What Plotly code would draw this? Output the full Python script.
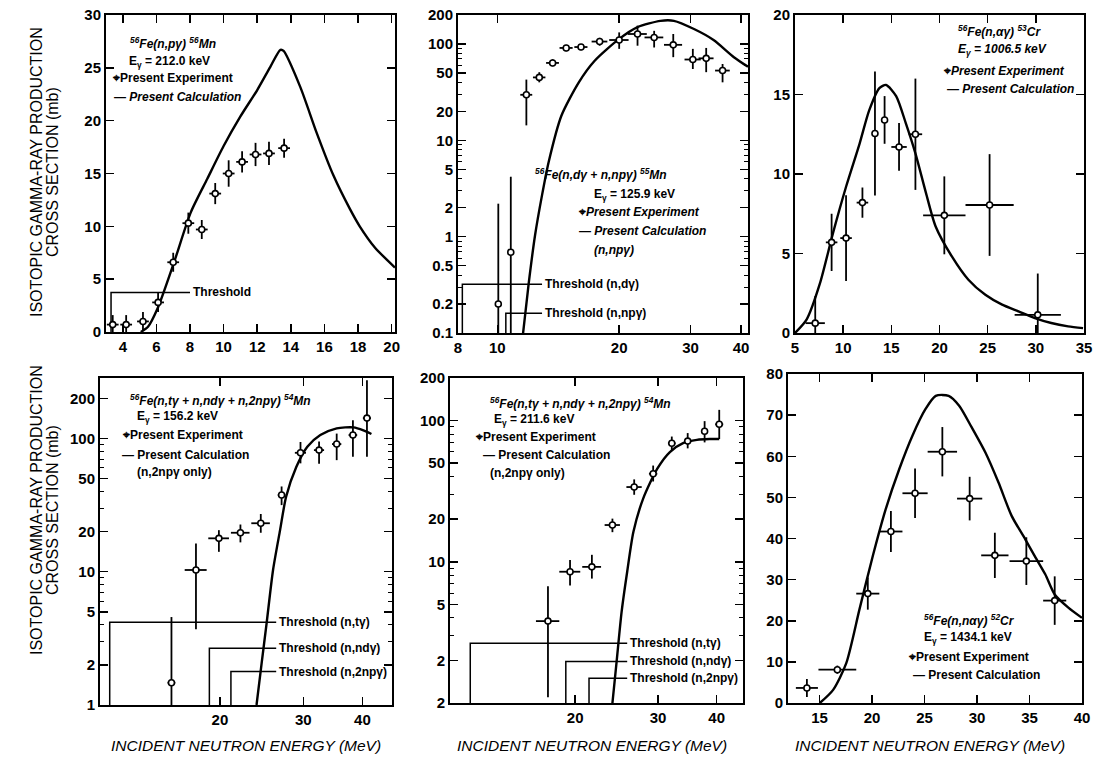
import math
import plotly.graph_objects as go

W, H = 1093, 759
FONT = "Liberation Sans, Arial, sans-serif"

# ---------------- data ----------------
# Panel 1: 56Fe(n,pγ)56Mn, Eγ = 212.0 keV
p1_E = [3.4, 4.2, 5.2, 6.1, 7.0, 7.9, 8.7, 9.5, 10.3, 11.1, 11.9, 12.7, 13.6]
p1_sig = [0.7, 0.7, 1.0, 2.8, 6.6, 10.3, 9.7, 13.1, 15.0, 16.1, 16.8, 16.9, 17.4]
p1_errp = [0.9, 0.9, 0.9, 0.9, 0.9, 1.0, 0.9, 1.0, 1.25, 1.0, 1.1, 1.1, 0.9]
p1_errm = [0.7, 0.7, 0.9, 0.9, 0.9, 1.0, 0.9, 1.0, 1.25, 1.0, 1.1, 1.1, 0.9]
p1_dE = [0.35, 0.35, 0.35, 0.35, 0.35, 0.35, 0.35, 0.35, 0.35, 0.35, 0.35, 0.35, 0.35]
p1_cE = [5.07, 5.5, 6.06, 7.05, 8.04, 9.03, 10.0, 11.0, 12.0, 12.78, 13.38, 13.57, 14.56, 15.55, 16.54, 17.53, 18.1, 19.0, 20.2]
p1_cS = [0.0, 0.5, 2.2, 6.6, 11.3, 14.5, 17.6, 20.4, 22.9, 25.1, 26.7, 26.6, 23.2, 18.8, 14.8, 11.6, 10.0, 8.0, 6.1]
p1_thrE = [3.3]
p1_thrH = [3.75]
p1_thrEnd = [8.0]
p1_thrLab = ["Threshold"]

# Panel 2: 56Fe(n,dγ + n,npγ)55Mn, Eγ = 125.9 keV
p2_E = [10.06, 10.8, 11.8, 12.7, 13.7, 14.8, 16.1, 17.9, 20.0, 22.2, 24.4, 27.2, 30.4, 32.8, 36.0]
p2_sig = [0.2, 0.69, 29.7, 45, 63.6, 91, 93, 106, 110, 127, 117, 98, 69, 71, 53]
p2_errp = [2.0, 3.5, 13, 6, 6, 7, 7, 10, 22, 28, 20, 29, 20, 20, 9]
p2_errm = [0.15, 0.65, 15.4, 5, 5, 7, 7, 10, 21, 31, 25, 25, 14, 20, 13]
p2_dE = [0.15, 0.15, 0.4, 0.45, 0.5, 0.55, 0.6, 0.8, 1.1, 1.2, 1.3, 1.4, 1.4, 1.4, 1.5]
p2_cE = [11.55, 11.95, 12.4, 12.9, 13.4, 14.4, 15.9, 17.4, 20.0, 22.2, 25.3, 27.3, 30.6, 34.2, 38.4, 41.6]
p2_cS = [0.09, 0.32, 1.04, 2.7, 6.0, 18, 40, 67, 113, 150, 174, 174, 143, 110, 73, 58]
p2_thrE = [8.2, 10.5]
p2_thrH = [0.32, 0.16]
p2_thrEnd = [12.9, 12.9]
p2_thrLab = ["Threshold (n,dγ)", "Threshold (n,npγ)"]

# Panel 3: 56Fe(n,αγ)53Cr, Eγ = 1006.5 keV
p3_E = [7.1, 8.8, 10.3, 12.0, 13.3, 14.3, 15.8, 17.5, 20.5, 25.2, 30.2]
p3_sig = [0.62, 5.7, 5.97, 8.2, 12.55, 13.4, 11.7, 12.5, 7.4, 8.05, 1.14]
p3_errp = [1.7, 1.8, 2.7, 0.95, 3.9, 1.5, 1.5, 3.5, 2.45, 3.2, 2.6]
p3_errm = [0.62, 1.8, 2.7, 0.95, 3.9, 1.5, 1.5, 3.5, 2.45, 3.2, 1.14]
p3_dE = [1.0, 0.6, 0.6, 0.6, 0.3, 0.3, 0.8, 0.7, 2.2, 2.5, 2.4]
p3_cE = [5.0, 6.2, 7.58, 8.95, 10.3, 11.7, 12.7, 13.76, 14.45, 15.5, 16.5, 17.5, 18.6, 19.6, 21.3, 23.0, 24.76, 26.5, 28.2, 29.9, 31.6, 33.35, 34.9]
p3_cS = [0.0, 0.84, 3.1, 6.3, 9.2, 11.9, 14.0, 15.4, 15.6, 14.9, 13.2, 11.3, 8.8, 6.7, 4.8, 3.35, 2.4, 1.78, 1.36, 0.94, 0.63, 0.42, 0.31]

# Panel 4: 56Fe(n,tγ + n,ndγ + n,2npγ)54Mn, Eγ = 156.2 keV
p4_E = [15.8, 17.8, 19.9, 22.1, 24.4, 27.0, 29.6, 32.4, 35.3, 38.2, 40.9]
p4_sig = [1.47, 10.3, 17.8, 19.6, 23.1, 37.6, 78, 81.7, 90.7, 106, 142]
p4_errp = [3.1, 6.0, 2.7, 3.0, 4.0, 6.0, 16, 13, 18, 31, 131]
p4_errm = [0.6, 6.6, 3.7, 3.0, 3.5, 6.0, 13, 17, 22, 33, 69]
p4_dE = [0.3, 0.95, 1.0, 1.0, 1.1, 0.5, 0.8, 0.8, 0.8, 0.8, 0.8]
p4_cE = [23.9, 24.5, 25.1, 25.9, 26.8, 27.6, 29.0, 30.6, 32.6, 35.3, 38.3, 40.2, 41.8]
p4_cS = [1.0, 2.05, 4.1, 10.3, 20.5, 36.5, 61, 86.6, 106, 119, 121, 115, 108]
p4_thrE = [11.7, 19.0, 21.1]
p4_thrH = [4.17, 2.66, 1.78]
p4_thrEnd = [26.3, 26.3, 26.3]
p4_thrLab = ["Threshold (n,tγ)", "Threshold (n,ndγ)", "Threshold (n,2npγ)"]

# Panel 5: 56Fe(n,tγ + n,ndγ + n,2npγ)54Mn, Eγ = 211.6 keV
p5_E = [17.5, 19.5, 21.7, 24.0, 26.7, 29.3, 32.1, 34.7, 37.7, 40.5]
p5_sig = [3.8, 8.5, 9.2, 18.2, 33.8, 42, 69, 71.5, 84, 94]
p5_errp = [2.9, 1.8, 2.0, 2.0, 4.5, 6.0, 8.0, 10, 15, 25]
p5_errm = [2.7, 1.7, 1.6, 2.0, 4.0, 5.0, 8.0, 8.0, 14, 20]
p5_dE = [1.0, 1.0, 1.0, 0.9, 1.0, 0.6, 0.6, 0.6, 0.5, 0.8]
p5_cE = [24.0, 24.5, 25.1, 25.8, 26.6, 27.9, 29.9, 31.8, 34.0, 36.3, 38.6, 40.5]
p5_cS = [1.0, 1.97, 4.4, 8.5, 16.3, 28, 45.6, 59.8, 69.5, 73, 74, 74]
p5_thrE = [11.96, 19.1, 21.4]
p5_thrH = [2.65, 1.97, 1.5]
p5_thrEnd = [25.8, 25.8, 25.8]
p5_thrLab = ["Threshold (n,tγ)", "Threshold (n,ndγ)", "Threshold (n,2npγ)"]

# Panel 6: 56Fe(n,nαγ)52Cr, Eγ = 1434.1 keV
p6_E = [13.8, 16.7, 19.6, 21.8, 24.1, 26.7, 29.3, 31.7, 34.7, 37.4]
p6_sig = [3.66, 8.1, 26.6, 41.7, 51.0, 61.1, 49.7, 35.9, 34.5, 24.9]
p6_err = [2.2, 1.0, 3.9, 5.0, 6.0, 6.0, 5.3, 5.5, 5.8, 5.9]
p6_dE = [1.05, 1.8, 1.1, 1.1, 1.2, 1.4, 1.2, 1.3, 1.6, 1.1]
p6_cE = [15.03, 16.3, 17.55, 18.8, 20.07, 21.3, 22.6, 23.85, 25.1, 26.07, 27.3, 28.3, 29.5, 30.8, 32.05, 33.3, 34.6, 35.5, 36.5, 37.4, 38.7, 40.0]
p6_cS = [0.0, 3.2, 9.7, 22.7, 35.7, 47.1, 56.9, 65.0, 71.5, 74.7, 74.7, 72.3, 67.0, 60.9, 53.6, 45.5, 39.8, 35.7, 31.3, 26.4, 23.2, 20.7]

# ---------------- layout geometry (pixels) ----------------
boxes = {
    1: (106, 395, 15, 332),
    2: (458, 748, 15, 333),
    3: (795, 1084, 15, 333),
    4: (100, 392, 378, 705),
    5: (450, 743, 378, 703),
    6: (788, 1082, 374, 703),
}

def dom(k):
    x0, x1, y0, y1 = boxes[k]
    return [x0 / W, x1 / W], [1 - y1 / H, 1 - y0 / H]

def minor_log(decades):
    vals = []
    for d in decades:
        for m in [3, 4, 6, 7, 8, 9]:
            vals.append(m * d)
    return vals

tickfont = dict(family=FONT, size=15, color="black", weight="bold")

def axis(k, typ, rng, tickvals, ticktext=None, minor=None):
    a = dict(type=typ, range=rng, showline=True, linecolor="black", linewidth=2,
             mirror="allticks", ticks="inside", ticklen=8, tickwidth=1.5,
             tickcolor="black", showgrid=False, zeroline=False, tickfont=tickfont,
             tickmode="array", tickvals=tickvals,
             ticktext=ticktext if ticktext is not None else [str(v) for v in tickvals],
             fixedrange=True, automargin=False)
    if minor is not None:
        a["minor"] = dict(ticks="inside", ticklen=4, tickwidth=1, tickcolor="black",
                          tickmode="array", tickvals=minor)
    return a

L = math.log10
layout_axes = {}
cfg = {
    1: dict(x=("linear", [3.0, 20.2], [4, 6, 8, 10, 12, 14, 16, 18, 20], None, None),
            y=("linear", [0, 30], [0, 5, 10, 15, 20, 25, 30], None, None)),
    2: dict(x=("log", [L(8), L(41.6)], [8, 10, 20, 30, 40], None, None),
            y=("log", [-1, L(200)], [0.1, 0.2, 0.5, 1, 2, 5, 10, 20, 50, 100, 200], None,
               minor_log([0.1, 1, 10, 100])[:-4])),
    3: dict(x=("linear", [5, 35], [5, 10, 15, 20, 25, 30, 35], None, None),
            y=("linear", [0, 20], [0, 5, 10, 15, 20], None, None)),
    4: dict(x=("log", [L(11.16), L(46.2)], [20, 30, 40], None, None),
            y=("log", [0, L(284)], [1, 2, 5, 10, 20, 50, 100, 200], None,
               minor_log([1, 10]))),
    5: dict(x=("log", [L(10.83), L(45.5)], [20, 30, 40], None, None),
            y=("log", [0, L(200)], [1, 2, 5, 10, 20, 50, 100, 200],
               ["2", "2", "5", "10", "20", "50", "100", "200"], minor_log([1, 10]))),
    6: dict(x=("linear", [12, 40], [15, 20, 25, 30, 35, 40], None, None),
            y=("linear", [0, 80], [0, 10, 20, 30, 40, 50, 60, 70, 80], None, None)),
}

for k, c in cfg.items():
    xd, yd = dom(k)
    xa = axis(k, *c["x"])
    ya = axis(k, *c["y"])
    xa["domain"] = xd
    ya["domain"] = yd
    xa["anchor"] = "y" if k == 1 else f"y{k}"
    ya["anchor"] = "x" if k == 1 else f"x{k}"
    layout_axes["xaxis" if k == 1 else f"xaxis{k}"] = xa
    layout_axes["yaxis" if k == 1 else f"yaxis{k}"] = ya

fig = go.Figure()

def refs(k):
    return ("x", "y") if k == 1 else (f"x{k}", f"y{k}")

def add_exp(k, E, S, ep, em, dE):
    xr, yr = refs(k)
    fig.add_trace(go.Scatter(
        x=E, y=S, mode="markers", xaxis=xr, yaxis=yr, showlegend=False,
        marker=dict(symbol="circle", size=6, color="white", line=dict(color="black", width=1.6)),
        error_y=dict(type="data", array=ep, arrayminus=em, symmetric=False,
                     color="black", thickness=1.8, width=0),
        error_x=dict(type="data", array=dE, color="black", thickness=1.8, width=0),
    ))

def add_calc(k, E, S):
    xr, yr = refs(k)
    fig.add_trace(go.Scatter(
        x=E, y=S, mode="lines", xaxis=xr, yaxis=yr, showlegend=False,
        line=dict(color="black", width=2.4, shape="spline", smoothing=0.7),
    ))

annotations = []

def add_thr(k, Es, Hs, Ends, labs):
    xr, yr = refs(k)
    xtyp = cfg[k]["x"][0]
    ytyp, yrng = cfg[k]["y"][0], cfg[k]["y"][1]
    floor = 10 ** yrng[0] if ytyp == "log" else yrng[0]
    for E, h, e2, lab in zip(Es, Hs, Ends, labs):
        fig.add_trace(go.Scatter(
            x=[E, E, e2], y=[floor, h, h], mode="lines", xaxis=xr, yaxis=yr,
            showlegend=False, line=dict(color="black", width=1.5)))
        annotations.append(dict(
            x=L(e2) if xtyp == "log" else e2, y=L(h) if ytyp == "log" else h,
            xref=xr, yref=yr, text="<b>" + lab + "</b>", showarrow=False,
            xanchor="left", yanchor="middle", xshift=1,
            font=dict(family=FONT, size=12, color="black")))

add_thr(1, p1_thrE, p1_thrH, p1_thrEnd, p1_thrLab)
add_thr(2, p2_thrE, p2_thrH, p2_thrEnd, p2_thrLab)
add_thr(4, p4_thrE, p4_thrH, p4_thrEnd, p4_thrLab)
add_thr(5, p5_thrE, p5_thrH, p5_thrEnd, p5_thrLab)

add_calc(1, p1_cE, p1_cS)
add_calc(2, p2_cE, p2_cS)
add_calc(3, p3_cE, p3_cS)
add_calc(4, p4_cE, p4_cS)
add_calc(5, p5_cE, p5_cS)
add_calc(6, p6_cE, p6_cS)

add_exp(1, p1_E, p1_sig, p1_errp, p1_errm, p1_dE)
add_exp(2, p2_E, p2_sig, p2_errp, p2_errm, p2_dE)
add_exp(3, p3_E, p3_sig, p3_errp, p3_errm, p3_dE)
add_exp(4, p4_E, p4_sig, p4_errp, p4_errm, p4_dE)
add_exp(5, p5_E, p5_sig, p5_errp, p5_errm, p5_dE)
add_exp(6, p6_E, p6_sig, p6_err, p6_err, p6_dE)

def pa(px, py, text, size=12, anchor="left", angle=0, bold=True):
    annotations.append(dict(
        x=px / W, y=1 - py / H, xref="paper", yref="paper",
        text=("<b>" + text + "</b>") if bold else text,
        showarrow=False, xanchor=anchor, yanchor="middle", textangle=angle,
        font=dict(family=FONT, size=size, color="black")))

SYM = "⌖"
EXP = SYM + "Present Experiment"
CALC = "— Present Calculation"

# panel 1 legend
pa(128, 43, "<i><sup>56</sup>Fe(n,pγ) <sup>56</sup>Mn</i>")
pa(127, 62, "E<sub>γ</sub> = 212.0 keV")
pa(110, 78, EXP)
pa(112, 97, "— <i>Present Calculation</i>")
# panel 2 legend
pa(533, 174, "<i><sup>56</sup>Fe(n,dγ + n,npγ) <sup>55</sup>Mn</i>")
pa(592, 195, "E<sub>γ</sub> = 125.9 keV")
pa(576, 212, SYM + "<i>Present Experiment</i>")
pa(577, 231, "— <i>Present Calculation</i>")
pa(592, 250, "<i>(n,npγ)</i>")
# panel 3 legend
pa(956, 31, "<i><sup>56</sup>Fe(n,αγ) <sup>53</sup>Cr</i>")
pa(956, 50, "<i>E<sub>γ</sub> = 1006.5 keV</i>")
pa(941, 71, SYM + "<i>Present Experiment</i>")
pa(945, 89, "— <i>Present Calculation</i>")
# panel 4 legend
pa(128, 400, "<i><sup>56</sup>Fe(n,tγ + n,ndγ + n,2npγ) <sup>54</sup>Mn</i>")
pa(135, 417, "E<sub>γ</sub> = 156.2 keV")
pa(120, 435, EXP)
pa(120, 455, CALC)
pa(135, 472, "(n,2npγ only)")
# panel 5 legend
pa(488, 403, "<i><sup>56</sup>Fe(n,tγ + n,ndγ + n,2npγ) <sup>54</sup>Mn</i>")
pa(492, 420, "E<sub>γ</sub> = 211.6 keV")
pa(473, 437, EXP)
pa(481, 455, CALC)
pa(488, 473, "(n,2npγ only)")
# panel 6 legend
pa(922, 620, "<i><sup>56</sup>Fe(n,nαγ) <sup>52</sup>Cr</i>")
pa(922, 638, "E<sub>γ</sub> = 1434.1 keV")
pa(906, 657, EXP)
pa(911, 675, CALC)

# axis titles
for cy in (172, 510):
    pa(36, cy, "ISOTOPIC GAMMA-RAY PRODUCTION", size=16, anchor="center", angle=-90, bold=False)
    pa(52, cy, "CROSS SECTION (mb)", size=16, anchor="center", angle=-90, bold=False)
for cx in (246, 592, 930):
    pa(cx, 745, "<i>INCIDENT NEUTRON ENERGY (MeV)</i>", size=15.5, anchor="center", bold=False)

fig.update_layout(
    width=W, height=H, margin=dict(l=0, r=0, t=0, b=0, autoexpand=False),
    paper_bgcolor="white", plot_bgcolor="white", showlegend=False,
    annotations=annotations, **layout_axes)

fig.write_html("out.html", config={"displayModeBar": False, "staticPlot": True},
               post_script="document.body.style.margin='0';")
